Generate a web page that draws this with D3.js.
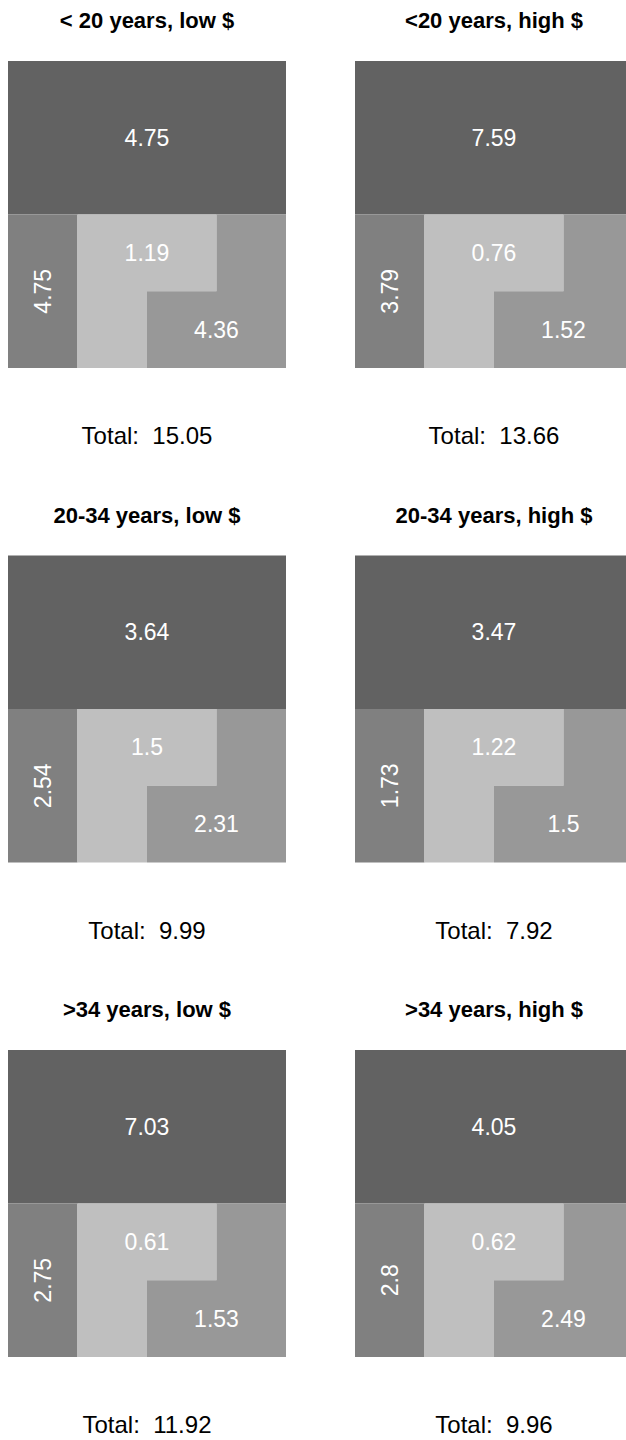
<!DOCTYPE html>
<html>
<head>
<meta charset="utf-8">
<script src="https://cdn.jsdelivr.net/npm/d3@7"></script>
<style>
  html, body { margin: 0; padding: 0; background: #ffffff; }
  svg { display: block; }
</style>
</head>
<body>
<svg id="chart" width="626" height="1440"></svg>
<script>
// ---- data ----
const titles = ["< 20 years, low $", "<20 years, high $", "20-34 years, low $", "20-34 years, high $", ">34 years, low $", ">34 years, high $"];
const topValues   = [4.75, 7.59, 3.64, 3.47, 7.03, 4.05];
const leftValues  = [4.75, 3.79, 2.54, 1.73, 2.75, 2.8];
const midValues   = [1.19, 0.76, 1.5, 1.22, 0.61, 0.62];
const rightValues = [4.36, 1.52, 2.31, 1.5, 1.53, 2.49];
const totals      = [15.05, 13.66, 9.99, 7.92, 11.92, 9.96];

// ---- layout ----
const panelW = 278, panelH = 307;
const colX = d3.scaleLinear().domain([0, 1]).range([8, 355]);
const rowY = d3.scaleLinear().domain([0, 2]).range([61, 1050]);
const ux = d3.scaleLinear().domain([0, 4]).range([0, panelW]);
const uy = d3.scaleLinear().domain([0, 4]).range([0, panelH]);

const colors = { top: "#626262", left: "#808080", mid: "#bfbfbf", right: "#989898" };
const fmt = v => String(+v.toFixed(2));

const svg = d3.select("#chart");

const panels = titles.map((t, i) => ({
  title: t, top: topValues[i], left: leftValues[i], mid: midValues[i],
  right: rightValues[i], total: totals[i], col: i % 2, row: Math.floor(i / 2)
}));

function poly(pts) {
  const p = d3.path();
  pts.forEach(([a, b], k) => k ? p.lineTo(ux(a), uy(b)) : p.moveTo(ux(a), uy(b)));
  p.closePath();
  return p.toString();
}

const g = svg.selectAll("g.panel").data(panels).join("g")
  .attr("class", "panel")
  .attr("transform", d => `translate(${colX(d.col)},${rowY(d.row)})`);

g.append("rect")
  .attr("x", ux(0)).attr("y", uy(0))
  .attr("width", ux(4) - ux(0)).attr("height", uy(2) - uy(0))
  .attr("fill", colors.top);

g.append("rect")
  .attr("x", ux(0)).attr("y", uy(2))
  .attr("width", ux(1) - ux(0)).attr("height", uy(4) - uy(2))
  .attr("fill", colors.left);

g.append("path")
  .attr("d", poly([[1, 2], [3, 2], [3, 3], [2, 3], [2, 4], [1, 4]]))
  .attr("fill", colors.mid);

g.append("path")
  .attr("d", poly([[3, 2], [4, 2], [4, 4], [2, 4], [2, 3], [3, 3]]))
  .attr("fill", colors.right);

const font = "Liberation Sans, Arial, Helvetica, sans-serif";

function valueText(sel) {
  return sel.attr("text-anchor", "middle").attr("dominant-baseline", "central")
    .attr("fill", "#ffffff").attr("font-family", font).attr("font-size", 23);
}

g.append("text").attr("x", ux(2)).attr("y", uy(1)).call(valueText).text(d => fmt(d.top));
g.append("text").attr("transform", `translate(${ux(0.5)},${uy(3)}) rotate(-90)`).call(valueText).text(d => fmt(d.left));
g.append("text").attr("x", ux(2)).attr("y", uy(2.5)).call(valueText).text(d => fmt(d.mid));
g.append("text").attr("x", ux(3)).attr("y", uy(3.5)).call(valueText).text(d => fmt(d.right));

g.append("text")
  .attr("x", ux(2)).attr("y", -33)
  .attr("text-anchor", "middle")
  .attr("fill", "#000000").attr("font-family", font)
  .attr("font-weight", "bold").attr("font-size", 22)
  .text(d => d.title);

g.append("text")
  .attr("x", ux(2)).attr("y", panelH + 76)
  .attr("text-anchor", "middle")
  .attr("fill", "#000000").attr("font-family", font).attr("font-size", 24)
  .style("white-space", "pre")
  .text(d => "Total:  " + fmt(d.total));
</script>
</body>
</html>
